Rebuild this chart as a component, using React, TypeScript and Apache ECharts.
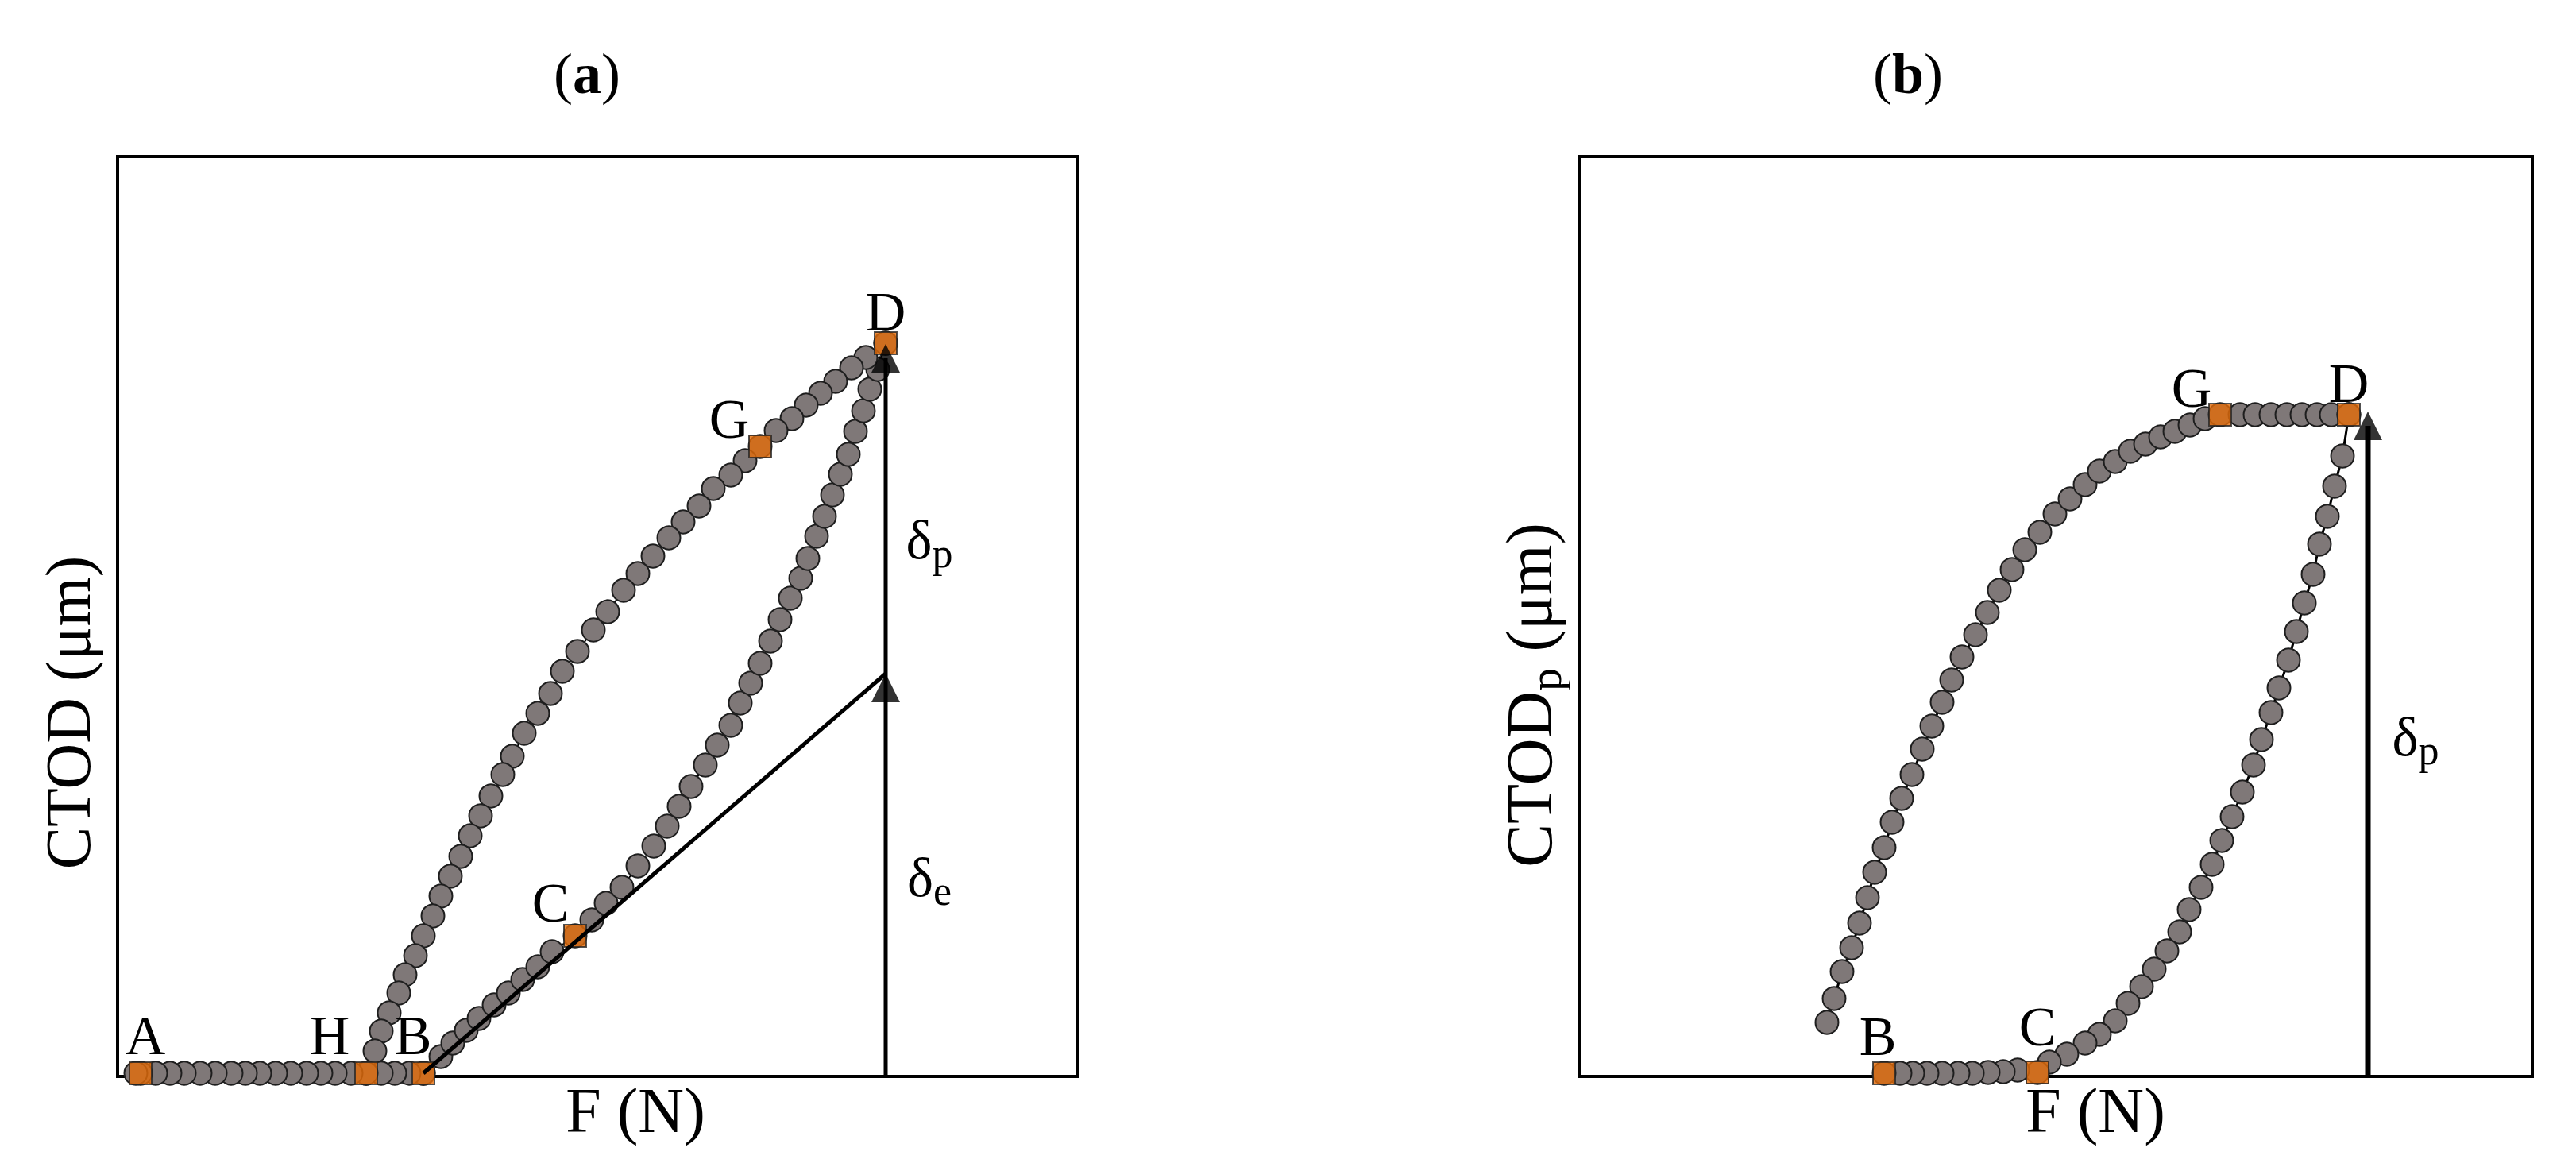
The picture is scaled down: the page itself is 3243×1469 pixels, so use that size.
import { useEffect, useRef } from 'react';
import * as echarts from 'echarts';

// ---------- Panel (a): CTOD vs F (arbitrary units, no ticks) ----------
// flat part H -> A (ordered right to left)
const aFlat: number[][] = [
  [38.5, 0.4], [36.7, 0.4], [34.9, 0.4], [33.2, 0.4], [31.3, 0.4], [29.4, 0.4], [27.4, 0.4],
  [25.6, 0.4], [23.8, 0.4], [21.8, 0.4], [19.9, 0.4], [17.9, 0.4], [16.1, 0.4], [14.3, 0.4],
  [12.3, 0.4], [10.4, 0.4], [8.4, 0.4], [6.6, 0.4], [4.8, 0.4], [2.9, 0.4], [2.3, 0.4],
];
// loading B -> C -> D
const aLoading: number[][] = [
  [38.5, 0.4], [40.7, 2.5], [42.2, 4.2], [43.9, 5.8], [45.5, 7.3], [47.4, 9.0], [49.2, 10.5],
  [51.0, 12.2], [52.9, 13.8], [54.7, 15.7], [57.6, 17.7], [59.7, 19.7], [61.5, 21.8], [63.5, 23.8],
  [65.5, 26.5], [67.5, 29.0], [69.2, 31.5], [70.7, 34.0], [72.2, 36.5], [74.0, 39.2], [75.5, 41.7],
  [77.2, 44.2], [78.4, 47.0], [79.7, 49.5], [80.9, 52.0], [82.2, 54.8], [83.4, 57.5], [84.7, 60.2],
  [86.0, 62.7], [86.9, 65.2], [88.0, 68.0], [89.0, 70.5], [90.0, 73.2], [91.0, 75.8], [92.0, 78.3],
  [92.9, 81.2], [93.9, 83.8], [94.7, 86.5], [95.7, 89.0], [96.7, 92.3],
];
// unloading D -> G -> H
const aUnloading: number[][] = [
  [96.7, 92.3], [94.2, 90.5], [92.4, 89.2], [90.4, 87.5], [88.5, 86.0], [86.7, 84.5], [84.9, 82.8],
  [82.9, 81.3], [80.9, 79.3], [79.0, 77.5], [77.2, 75.7], [75.0, 74.0], [73.2, 71.8], [71.2, 69.8],
  [69.4, 67.8], [67.4, 65.5], [65.5, 63.3], [63.7, 61.2], [61.7, 58.5], [59.9, 56.2], [57.9, 53.5],
  [56.0, 51.0], [54.5, 48.2], [52.9, 45.7], [51.2, 43.2], [49.7, 40.3], [48.5, 38.0], [47.0, 35.3],
  [45.7, 32.8], [44.4, 30.3], [43.2, 27.7], [41.9, 25.2], [40.7, 22.7], [39.7, 20.2], [38.5, 17.7],
  [37.5, 15.2], [36.2, 12.8], [35.4, 10.5], [34.2, 8.0], [33.2, 5.7], [32.4, 3.2], [31.3, 0.4],
];
const aKeyNames = ['A', 'H', 'B', 'C', 'G', 'D'];
const aKeyPoints: number[][] = [[2.9, 0.4], [31.3, 0.4], [38.5, 0.4], [57.6, 17.7], [80.9, 79.3], [96.7, 92.3]];
const aArrowF = 96.7;
const aTipTotal = 92.2; // δe + δp
const aTipElastic = 50.7; // δe
const aElasticStart = [38.5, 0.4];
const aDeltaLabels = [
  { sub: 'p', at: [102.2, 67.6] },
  { sub: 'e', at: [102.2, 25.1] },
];

// ---------- Panel (b): CTODp vs F ----------
// start -> G -> D
const bCurve: number[][] = [
  [31.2, 6.8], [32.1, 9.8], [33.1, 13.2], [34.3, 16.2], [35.3, 19.3], [36.3, 22.5], [37.2, 25.7],
  [38.4, 28.8], [39.4, 32.0], [40.6, 35.0], [41.9, 38.0], [43.2, 41.2], [44.4, 44.1], [45.7, 47.1],
  [46.9, 49.9], [48.2, 52.8], [49.9, 55.6], [51.4, 58.4], [52.9, 61.2], [54.5, 63.8], [56.1, 66.3],
  [58.0, 68.5], [59.9, 70.8], [61.8, 72.7], [63.7, 74.5], [65.5, 76.2], [67.5, 77.4], [69.4, 78.7],
  [71.3, 79.6], [73.2, 80.5], [75.0, 81.2], [76.9, 82.0], [78.8, 82.8], [80.7, 83.3], [83.2, 83.3],
  [85.1, 83.3], [87.1, 83.3], [89.1, 83.3], [91.0, 83.3], [92.9, 83.3], [94.7, 83.3], [96.9, 83.3],
];
// D -> C -> B
const bReturn: number[][] = [
  [96.9, 83.3], [96.1, 78.1], [95.1, 74.3], [94.2, 70.5], [93.2, 67.0], [92.4, 63.2], [91.3, 59.6],
  [90.3, 56.0], [89.3, 52.4], [88.1, 48.9], [87.1, 45.8], [85.9, 42.4], [84.9, 39.2], [83.5, 35.8],
  [82.2, 32.7], [80.9, 29.7], [79.7, 26.7], [78.3, 23.8], [76.8, 21.0], [75.6, 18.2], [74.0, 15.8],
  [72.4, 13.5], [70.8, 11.3], [69.1, 9.2], [67.5, 7.0], [65.5, 5.3], [63.7, 4.2], [61.4, 2.8],
  [59.2, 1.8], [57.7, 0.5], [55.2, 0.8], [53.4, 0.6], [51.5, 0.5], [49.5, 0.4], [47.7, 0.4],
  [45.7, 0.4], [43.8, 0.4], [42.0, 0.4], [40.4, 0.4], [38.4, 0.4],
];
const bKeyNames = ['G', 'D', 'B', 'C'];
const bKeyPoints: number[][] = [[80.7, 83.3], [96.9, 83.3], [38.4, 0.4], [57.7, 0.5]];
const bArrowF = 99.3;
const bTip = 83.7; // δp
const bDeltaLabels = [{ sub: 'p', at: [105.3, 42.8] }];

// ---------- styling ----------
const SERIF = '"Liberation Serif", "DejaVu Serif", serif';
const INK = '#000000';
const dotStyle = { color: '#7f7878', borderColor: '#1e1e1e', borderWidth: 2 };
const squareStyle = { color: '#e36c09', borderColor: '#262626', borderWidth: 2 };
const aLabelOffsets: Record<string, number[]> = {
  A: [6, -48], H: [-46, -48], B: [-13, -48], C: [-31, -42], G: [-39, -35], D: [0, -40],
};
const bLabelOffsets: Record<string, number[]> = {
  G: [-36, -34], D: [0, -40], B: [-8, -47], C: [0, -58],
};
const HEAD = 36; // arrow head px
const PX_PER_UNIT = 10;
const noStroke = { textBorderWidth: 0, textBorderColor: 'transparent', textShadowBlur: 0, opacity: 1 };

function dots(grid: number, data: number[][], lineW: number) {
  return {
    type: 'line', xAxisIndex: grid, yAxisIndex: grid, data, symbol: 'circle', symbolSize: 29,
    showSymbol: true, showAllSymbol: true, clip: false, silent: true,
    lineStyle: { color: INK, width: lineW }, itemStyle: dotStyle, z: 2,
  };
}
function segment(grid: number, data: number[][], width: number) {
  return {
    type: 'line', xAxisIndex: grid, yAxisIndex: grid, data, symbol: 'none', clip: false, silent: true,
    lineStyle: { color: INK, width }, z: 5,
  };
}
function heads(grid: number, data: number[][]) {
  return {
    type: 'scatter', xAxisIndex: grid, yAxisIndex: grid, data, symbol: 'triangle',
    symbolSize: [HEAD, HEAD], itemStyle: { color: INK }, clip: false, silent: true, z: 6,
  };
}
function keys(grid: number, names: string[], pts: number[][], offs: Record<string, number[]>) {
  return {
    type: 'scatter', xAxisIndex: grid, yAxisIndex: grid, symbol: 'rect', symbolSize: 28,
    itemStyle: squareStyle, clip: false, silent: true, z: 4,
    label: {
      show: true, position: 'inside', formatter: '{b}', color: INK, fontFamily: SERIF, fontSize: 70, ...noStroke,
    },
    data: names.map((n, i) => ({ name: n, value: pts[i], label: { offset: offs[n] } })),
  };
}
function deltas(grid: number, items: { sub: string; at: number[] }[]) {
  return {
    type: 'scatter', xAxisIndex: grid, yAxisIndex: grid, symbol: 'circle', symbolSize: 1,
    itemStyle: { color: 'rgba(0,0,0,0)' }, clip: false, silent: true, z: 7,
    label: {
      show: true, position: 'inside', color: INK, ...noStroke,
      formatter: (p: any) => `{d|δ}{s|${p.name}}`,
      rich: {
        d: { fontFamily: SERIF, fontSize: 70, lineHeight: 86, color: INK, ...noStroke },
        s: { fontFamily: SERIF, fontSize: 52, lineHeight: 52, verticalAlign: 'bottom', color: INK, ...noStroke },
      },
    },
    data: items.map((it) => ({ name: it.sub, value: it.at })),
  };
}

export default function App() {
  const ref = useRef<HTMLDivElement>(null);
  useEffect(() => {
    if (!ref.current) return;
    const chart = echarts.init(ref.current, undefined, { renderer: 'svg' });
    const headOff = HEAD / 2 / PX_PER_UNIT;
    const axisCommon = { type: 'value', show: false, min: 0, splitLine: { show: false } };
    chart.setOption({
      animation: false,
      backgroundColor: '#fff',
      grid: [
        { left: 148, top: 197, width: 1208, height: 1158, show: true, borderColor: INK, borderWidth: 4, containLabel: false },
        { left: 1988, top: 197, width: 1200, height: 1158, show: true, borderColor: INK, borderWidth: 4, containLabel: false },
      ],
      xAxis: [
        { ...axisCommon, gridIndex: 0, max: 120.8 },
        { ...axisCommon, gridIndex: 1, max: 120.0 },
      ],
      yAxis: [
        { ...axisCommon, gridIndex: 0, max: 115.8 },
        { ...axisCommon, gridIndex: 1, max: 115.8 },
      ],
      series: [
        // panel (a)
        dots(0, aLoading, 2),
        dots(0, aUnloading, 2),
        dots(0, aFlat, 2),
        segment(0, [aElasticStart, [aArrowF, aTipElastic]], 5),
        segment(0, [[aArrowF, 0], [aArrowF, aTipTotal - headOff]], 5),
        heads(0, [[aArrowF, aTipTotal - headOff], [aArrowF, aTipElastic - headOff]]),
        keys(0, aKeyNames, aKeyPoints, aLabelOffsets),
        deltas(0, aDeltaLabels),
        // panel (b)
        dots(1, bCurve, 3),
        dots(1, bReturn, 3),
        segment(1, [[bArrowF, 0], [bArrowF, bTip - headOff]], 7),
        heads(1, [[bArrowF, bTip - headOff]]),
        keys(1, bKeyNames, bKeyPoints, bLabelOffsets),
        deltas(1, bDeltaLabels),
      ],
      graphic: [
        {
          type: 'text', x: 739, y: 93,
          style: {
            text: '({b|a})', fontFamily: SERIF, fontSize: 72, fill: INK, align: 'center', verticalAlign: 'middle',
            rich: { b: { fontFamily: SERIF, fontSize: 72, fontWeight: 'bold', fill: INK } },
          },
        },
        {
          type: 'text', x: 2402, y: 93,
          style: {
            text: '({b|b})', fontFamily: SERIF, fontSize: 72, fill: INK, align: 'center', verticalAlign: 'middle',
            rich: { b: { fontFamily: SERIF, fontSize: 72, fontWeight: 'bold', fill: INK } },
          },
        },
        {
          type: 'text', x: 800, y: 1398,
          style: { text: 'F (N)', fontFamily: SERIF, fontSize: 80, fill: INK, align: 'center', verticalAlign: 'middle' },
        },
        {
          type: 'text', x: 2638, y: 1398,
          style: { text: 'F (N)', fontFamily: SERIF, fontSize: 80, fill: INK, align: 'center', verticalAlign: 'middle' },
        },
        {
          type: 'text', x: 86, y: 897, rotation: Math.PI / 2,
          style: { text: 'CTOD (μm)', fontFamily: SERIF, fontSize: 80, fill: INK, align: 'center', verticalAlign: 'middle' },
        },
        {
          type: 'text', x: 1925, y: 875, rotation: Math.PI / 2,
          style: {
            text: '{a|CTOD}{s|p}{a| (μm)}', fontFamily: SERIF, fontSize: 82, fill: INK, align: 'center', verticalAlign: 'middle',
            rich: {
              a: { fontFamily: SERIF, fontSize: 82, lineHeight: 98, fill: INK },
              s: { fontFamily: SERIF, fontSize: 58, lineHeight: 58, verticalAlign: 'bottom', fill: INK },
            },
          },
        },
      ],
    });
    return () => chart.dispose();
  }, []);
  return (
    <div
      ref={ref}
      style={{ position: 'fixed', left: 0, top: 0, width: '3243px', height: '1469px', background: '#fff' }}
    />
  );
}
